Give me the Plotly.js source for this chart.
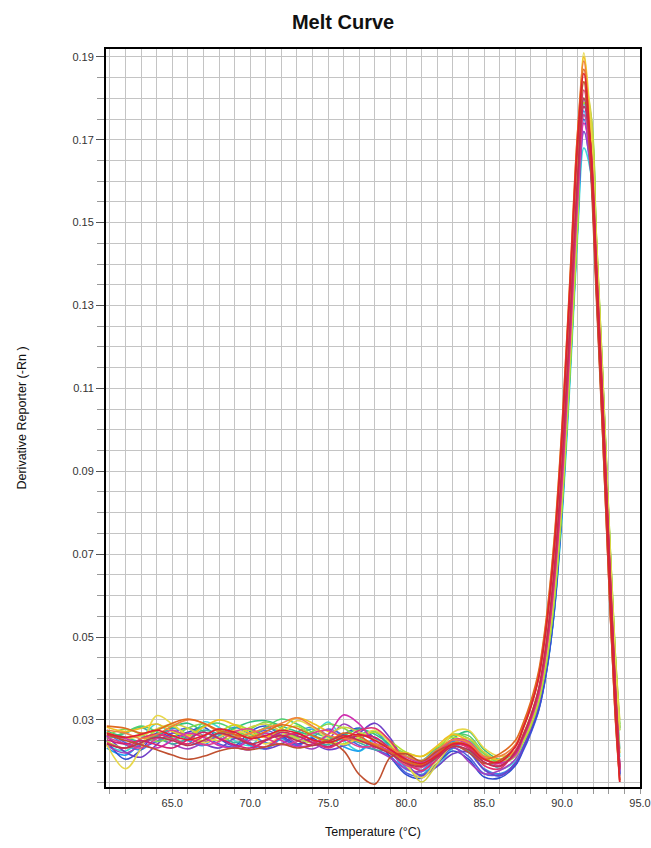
<!DOCTYPE html>
<html>
<head>
<meta charset="utf-8">
<script src="https://cdn.plot.ly/plotly-3.0.1.min.js"></script>
<style>html,body{margin:0;padding:0;background:#fff;}#chart{width:651px;height:848px;}</style>
</head>
<body>
<div id="chart"></div>
<script>
// Temperature sample points (°C)
const temps = [60.8,62,63,64,65,66,67,68,69,70,71,72,73,74,75,76,77,78,79,80,81,82,83,84,85,86,
  87,87.5,88,88.5,89,89.5,90,90.5,91,91.4,91.8,92.2,92.6,93,93.4,93.7];

// Derivative reporter (-Rn) per well
const wellA = [0.0240,0.0225,0.0255,0.0290,0.0262,0.0240,0.0295,0.0282,0.0250,0.0238,0.0268,0.0255,0.0240,0.0262,0.0295,0.0250,0.0225,0.0250,0.0238,0.0200,0.0178,0.0188,0.0232,0.0250,0.0212,0.0182,
  0.0200,0.0235,0.0278,0.0330,0.0420,0.0560,0.0790,0.1110,0.1470,0.1680,0.1630,0.1370,0.1060,0.0720,0.0400,0.0210];
const wellV = [0.0232,0.0215,0.0245,0.0265,0.0275,0.0250,0.0238,0.0268,0.0262,0.0238,0.0230,0.0255,0.0265,0.0278,0.0262,0.0235,0.0225,0.0255,0.0225,0.0180,0.0178,0.0222,0.0248,0.0232,0.0180,0.0165,
  0.0195,0.0230,0.0272,0.0325,0.0415,0.0560,0.0800,0.1130,0.1490,0.1720,0.1640,0.1360,0.1040,0.0705,0.0380,0.0190];
const wellB = [0.0270,0.0240,0.0228,0.0258,0.0280,0.0265,0.0245,0.0262,0.0282,0.0265,0.0245,0.0242,0.0270,0.0282,0.0258,0.0238,0.0255,0.0270,0.0232,0.0185,0.0168,0.0205,0.0240,0.0222,0.0182,0.0170,
  0.0195,0.0235,0.0280,0.0335,0.0430,0.0580,0.0830,0.1170,0.1530,0.1770,0.1660,0.1350,0.1020,0.0680,0.0360,0.0170];
const wellW = [0.0275,0.0245,0.0235,0.0248,0.0268,0.0280,0.0262,0.0242,0.0235,0.0258,0.0275,0.0258,0.0238,0.0258,0.0278,0.0262,0.0238,0.0228,0.0212,0.0172,0.0165,0.0195,0.0232,0.0212,0.0170,0.0168,
  0.0190,0.0225,0.0268,0.0322,0.0415,0.0565,0.0815,0.1160,0.1525,0.1790,0.1670,0.1355,0.1025,0.0685,0.0362,0.0168];
const wellC = [0.0250,0.0205,0.0228,0.0268,0.0260,0.0270,0.0282,0.0255,0.0238,0.0272,0.0285,0.0262,0.0242,0.0255,0.0235,0.0265,0.0280,0.0255,0.0210,0.0168,0.0160,0.0195,0.0225,0.0205,0.0162,0.0160,
  0.0190,0.0228,0.0272,0.0325,0.0418,0.0565,0.0810,0.1150,0.1510,0.1750,0.1650,0.1345,0.1015,0.0675,0.0355,0.0165];
const wellD = [0.0262,0.0222,0.0210,0.0240,0.0268,0.0255,0.0242,0.0232,0.0255,0.0245,0.0230,0.0242,0.0260,0.0245,0.0228,0.0238,0.0268,0.0292,0.0255,0.0195,0.0165,0.0188,0.0218,0.0222,0.0180,0.0165,
  0.0195,0.0232,0.0278,0.0335,0.0432,0.0585,0.0840,0.1185,0.1550,0.1800,0.1680,0.1360,0.1030,0.0690,0.0365,0.0170];
const wellE = [0.0238,0.0220,0.0240,0.0255,0.0242,0.0230,0.0245,0.0258,0.0235,0.0228,0.0250,0.0265,0.0242,0.0230,0.0252,0.0290,0.0265,0.0230,0.0208,0.0182,0.0175,0.0212,0.0235,0.0200,0.0170,0.0178,
  0.0205,0.0248,0.0292,0.0352,0.0455,0.0615,0.0855,0.1185,0.1530,0.1720,0.1640,0.1360,0.1040,0.0700,0.0370,0.0175];
const wellG = [0.0255,0.0268,0.0282,0.0260,0.0242,0.0255,0.0275,0.0265,0.0245,0.0260,0.0280,0.0270,0.0255,0.0245,0.0240,0.0255,0.0245,0.0228,0.0225,0.0212,0.0202,0.0232,0.0238,0.0225,0.0205,0.0200,
  0.0215,0.0250,0.0290,0.0345,0.0440,0.0590,0.0830,0.1160,0.1520,0.1760,0.1690,0.1400,0.1080,0.0740,0.0420,0.0230];
const wellX = [0.0255,0.0270,0.0285,0.0272,0.0252,0.0262,0.0285,0.0292,0.0275,0.0262,0.0282,0.0302,0.0290,0.0270,0.0258,0.0255,0.0265,0.0272,0.0245,0.0205,0.0195,0.0228,0.0262,0.0262,0.0220,0.0198,
  0.0215,0.0248,0.0288,0.0345,0.0440,0.0590,0.0820,0.1140,0.1500,0.1790,0.1750,0.1455,0.1125,0.0775,0.0455,0.0275];
const wellH = [0.0272,0.0258,0.0248,0.0262,0.0282,0.0292,0.0272,0.0258,0.0280,0.0295,0.0298,0.0285,0.0272,0.0262,0.0252,0.0262,0.0278,0.0265,0.0240,0.0212,0.0198,0.0208,0.0255,0.0272,0.0228,0.0205,
  0.0222,0.0250,0.0290,0.0348,0.0442,0.0590,0.0820,0.1135,0.1490,0.1780,0.1750,0.1455,0.1130,0.0780,0.0460,0.0280];
const wellI = [0.0262,0.0278,0.0265,0.0248,0.0258,0.0280,0.0290,0.0272,0.0260,0.0278,0.0295,0.0280,0.0258,0.0272,0.0290,0.0280,0.0255,0.0240,0.0235,0.0218,0.0198,0.0225,0.0265,0.0255,0.0218,0.0200,
  0.0215,0.0250,0.0292,0.0350,0.0445,0.0595,0.0825,0.1145,0.1500,0.1800,0.1770,0.1470,0.1140,0.0790,0.0470,0.0290];
const wellJ = [0.0248,0.0232,0.0245,0.0275,0.0285,0.0262,0.0250,0.0270,0.0288,0.0275,0.0258,0.0272,0.0285,0.0262,0.0245,0.0242,0.0258,0.0270,0.0248,0.0222,0.0212,0.0235,0.0258,0.0242,0.0210,0.0195,
  0.0212,0.0245,0.0285,0.0342,0.0438,0.0588,0.0818,0.1138,0.1495,0.1790,0.1760,0.1462,0.1132,0.0782,0.0462,0.0282];
const wellM = [0.0270,0.0255,0.0262,0.0278,0.0290,0.0280,0.0260,0.0250,0.0262,0.0282,0.0290,0.0272,0.0255,0.0245,0.0265,0.0282,0.0270,0.0252,0.0232,0.0195,0.0150,0.0195,0.0242,0.0255,0.0222,0.0202,
  0.0215,0.0250,0.0292,0.0352,0.0450,0.0605,0.0840,0.1165,0.1530,0.1840,0.1780,0.1470,0.1140,0.0790,0.0470,0.0300];
const wellK = [0.0240,0.0182,0.0232,0.0310,0.0290,0.0262,0.0245,0.0258,0.0275,0.0262,0.0242,0.0262,0.0298,0.0282,0.0255,0.0240,0.0258,0.0275,0.0242,0.0190,0.0160,0.0205,0.0270,0.0275,0.0232,0.0212,
  0.0225,0.0260,0.0302,0.0362,0.0465,0.0625,0.0870,0.1200,0.1580,0.1910,0.1760,0.1450,0.1120,0.0770,0.0450,0.0275];
const wellL = [0.0282,0.0272,0.0280,0.0290,0.0272,0.0262,0.0282,0.0300,0.0288,0.0268,0.0258,0.0280,0.0305,0.0292,0.0272,0.0260,0.0248,0.0238,0.0225,0.0220,0.0212,0.0238,0.0265,0.0248,0.0212,0.0205,
  0.0225,0.0265,0.0312,0.0375,0.0490,0.0665,0.0920,0.1260,0.1640,0.1900,0.1720,0.1400,0.1070,0.0720,0.0400,0.0220];
const wellF = [0.0262,0.0255,0.0240,0.0232,0.0250,0.0268,0.0258,0.0238,0.0232,0.0252,0.0268,0.0250,0.0235,0.0242,0.0265,0.0312,0.0290,0.0245,0.0225,0.0210,0.0198,0.0222,0.0252,0.0240,0.0205,0.0195,
  0.0215,0.0255,0.0300,0.0360,0.0470,0.0630,0.0870,0.1200,0.1550,0.1740,0.1660,0.1380,0.1060,0.0715,0.0380,0.0180];
const wellR = [0.0258,0.0242,0.0232,0.0255,0.0275,0.0258,0.0240,0.0248,0.0272,0.0278,0.0258,0.0240,0.0248,0.0268,0.0275,0.0255,0.0235,0.0235,0.0218,0.0190,0.0185,0.0218,0.0252,0.0248,0.0208,0.0190,
  0.0220,0.0258,0.0302,0.0362,0.0470,0.0635,0.0880,0.1210,0.1570,0.1760,0.1680,0.1395,0.1070,0.0725,0.0390,0.0190];
const wellU = [0.0252,0.0242,0.0250,0.0240,0.0232,0.0252,0.0270,0.0255,0.0240,0.0232,0.0250,0.0270,0.0262,0.0245,0.0235,0.0250,0.0262,0.0258,0.0230,0.0200,0.0190,0.0212,0.0240,0.0235,0.0198,0.0188,
  0.0220,0.0258,0.0305,0.0368,0.0478,0.0645,0.0895,0.1230,0.1590,0.1780,0.1700,0.1410,0.1080,0.0730,0.0395,0.0185];
const wellQ = [0.0245,0.0232,0.0255,0.0265,0.0255,0.0242,0.0260,0.0278,0.0265,0.0242,0.0235,0.0258,0.0268,0.0250,0.0232,0.0252,0.0275,0.0280,0.0248,0.0198,0.0178,0.0205,0.0242,0.0232,0.0190,0.0182,
  0.0225,0.0262,0.0308,0.0370,0.0480,0.0650,0.0900,0.1235,0.1600,0.1820,0.1700,0.1385,0.1055,0.0705,0.0380,0.0185];
const wellN = [0.0275,0.0268,0.0255,0.0265,0.0285,0.0300,0.0292,0.0270,0.0258,0.0268,0.0280,0.0292,0.0305,0.0285,0.0262,0.0255,0.0250,0.0242,0.0232,0.0212,0.0202,0.0228,0.0252,0.0245,0.0212,0.0212,
  0.0240,0.0285,0.0338,0.0410,0.0540,0.0730,0.1005,0.1355,0.1720,0.1890,0.1690,0.1340,0.1000,0.0640,0.0320,0.0155];
const wellO = [0.0285,0.0280,0.0268,0.0275,0.0292,0.0302,0.0292,0.0275,0.0265,0.0258,0.0272,0.0288,0.0280,0.0262,0.0250,0.0268,0.0260,0.0238,0.0222,0.0200,0.0192,0.0218,0.0245,0.0238,0.0205,0.0218,
  0.0250,0.0292,0.0345,0.0418,0.0548,0.0738,0.1010,0.1360,0.1720,0.1870,0.1680,0.1335,0.0995,0.0635,0.0315,0.0150];
const wellP = [0.0265,0.0250,0.0240,0.0228,0.0215,0.0205,0.0212,0.0225,0.0232,0.0228,0.0235,0.0242,0.0232,0.0238,0.0248,0.0225,0.0168,0.0145,0.0210,0.0218,0.0200,0.0225,0.0238,0.0222,0.0195,0.0202,
  0.0235,0.0278,0.0330,0.0400,0.0525,0.0710,0.0980,0.1325,0.1680,0.1840,0.1650,0.1320,0.0990,0.0635,0.0320,0.0155];
const wellS = [0.0242,0.0232,0.0245,0.0258,0.0250,0.0238,0.0250,0.0268,0.0258,0.0242,0.0252,0.0262,0.0250,0.0238,0.0248,0.0262,0.0250,0.0235,0.0218,0.0195,0.0188,0.0210,0.0235,0.0228,0.0198,0.0188,
  0.0222,0.0262,0.0310,0.0375,0.0490,0.0665,0.0920,0.1255,0.1610,0.1800,0.1700,0.1400,0.1070,0.0720,0.0390,0.0180];
const wellT = [0.0268,0.0258,0.0265,0.0275,0.0262,0.0252,0.0262,0.0278,0.0270,0.0255,0.0262,0.0275,0.0268,0.0252,0.0245,0.0258,0.0265,0.0250,0.0228,0.0205,0.0195,0.0215,0.0242,0.0238,0.0205,0.0198,
  0.0235,0.0280,0.0332,0.0402,0.0528,0.0715,0.0990,0.1340,0.1700,0.1860,0.1700,0.1370,0.1030,0.0670,0.0340,0.0150];

const wells = [wellA,wellV,wellB,wellW,wellC,wellD,wellE,wellG,wellX,wellH,wellI,wellJ,wellM,wellK,wellL,wellF,wellR,wellU,wellQ,wellN,wellO,wellP,wellS,wellT];
const wellColors = ["#3fd8d8","#20a0f0","#3a8fe0","#5060e0","#3050d0","#7040c8","#a040c0","#40b0a0","#50d070","#30c080","#7fd84a","#b0e030","#d0d040","#e8d84a","#f0c020","#d030b0","#e04090","#d02070","#e03070","#f08040","#e06a20","#c05030","#c03050","#e02030"];

const traces = wells.map((w, i) => ({
  type: 'scatter', mode: 'lines', x: temps, y: w,
  line: {color: wellColors[i], width: 1.6, shape: 'spline', smoothing: 1},
  hoverinfo: 'skip', showlegend: false
}));

const font = 'Liberation Sans, Arial, sans-serif';
const layout = {
  width: 651, height: 848,
  margin: {l: 106, r: 11, t: 49, b: 61},
  paper_bgcolor: '#ffffff', plot_bgcolor: '#ffffff',
  font: {family: font, size: 11, color: '#222'},
  title: {text: '<b>Melt Curve</b>', font: {family: font, size: 20, color: '#111'},
    xref: 'container', yref: 'container', x: 0.527, xanchor: 'center', y: 0.974, yanchor: 'middle'},
  xaxis: {
    range: [60.75, 95], tick0: 0, dtick: 5, tickformat: '.1f',
    showgrid: true, gridcolor: '#c4c4c4', gridwidth: 1,
    ticks: 'outside', ticklen: 5, tickcolor: '#999',
    showline: true, linecolor: '#000', linewidth: 2, mirror: true,
    zeroline: false, tickfont: {family: font, size: 11, color: '#333'},
    minor: {dtick: 1, showgrid: true, gridcolor: '#c4c4c4', gridwidth: 1, ticks: 'outside', ticklen: 5, tickcolor: '#999'},
    title: {text: 'Temperature (°C)', font: {family: font, size: 12.5, color: '#111'}, standoff: 19},
    automargin: false
  },
  yaxis: {
    range: [0.0138, 0.1919], tick0: 0.01, dtick: 0.02, tickformat: '.2f',
    showgrid: true, gridcolor: '#c4c4c4', gridwidth: 1,
    ticks: 'outside', ticklen: 8, tickcolor: '#555',
    showline: true, linecolor: '#000', linewidth: 2, mirror: true,
    zeroline: false, tickfont: {family: font, size: 11, color: '#333'},
    minor: {dtick: 0.005, tick0: 0, showgrid: true, gridcolor: '#c4c4c4', gridwidth: 1, ticks: 'outside', ticklen: 7, tickcolor: '#999'},
    title: {text: 'Derivative Reporter (-Rn )', font: {family: font, size: 12.5, color: '#111'}, standoff: 43},
    automargin: false
  }
};

Plotly.newPlot('chart', traces, layout, {displayModeBar: false, staticPlot: true});
</script>
</body>
</html>
